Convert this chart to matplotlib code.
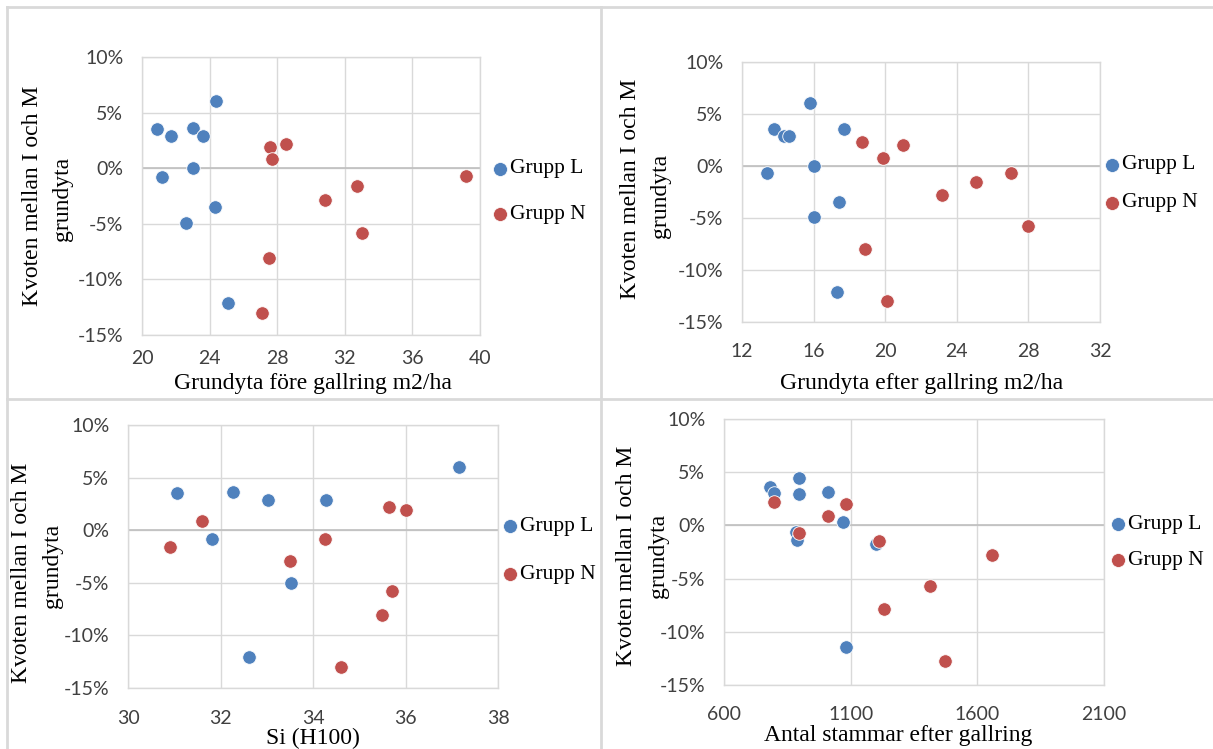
import matplotlib
matplotlib.use("Agg")
import matplotlib.pyplot as plt
from matplotlib.lines import Line2D
from matplotlib.ticker import FuncFormatter

# ---------------- data (y values in %) ----------------
# Panel 1: Grundyta före gallring m2/ha
p1_L_x = [24.4, 20.9, 21.7, 23.0, 23.6, 23.0, 21.2, 24.3, 22.6, 25.1]
p1_L_y = [6.0, 3.5, 2.9, 3.6, 2.9, 0.0, -0.8, -3.5, -4.9, -12.1]
p1_N_x = [27.6, 28.5, 27.7, 32.7, 30.8, 39.2, 33.0, 27.5, 27.1]
p1_N_y = [1.9, 2.2, 0.8, -1.6, -2.9, -0.7, -5.8, -8.1, -13.0]

# Panel 2: Grundyta efter gallring m2/ha
p2_L_x = [15.8, 13.8, 14.35, 14.6, 17.7, 16.0, 13.4, 17.4, 16.0, 17.3]
p2_L_y = [6.1, 3.6, 2.9, 2.9, 3.6, 0.0, -0.7, -3.5, -4.9, -12.1]
p2_N_x = [18.7, 21.0, 19.9, 27.0, 25.1, 23.2, 28.0, 18.85, 20.1]
p2_N_y = [2.3, 2.0, 0.8, -0.7, -1.5, -2.8, -5.8, -8.0, -13.0]

# Panel 3: Si (H100)
p3_L_x = [37.15, 31.05, 32.26, 33.03, 34.28, 31.82, 33.53, 32.61]
p3_L_y = [6.0, 3.5, 3.6, 2.9, 2.85, -0.8, -5.0, -12.1]
p3_N_x = [31.6, 30.9, 34.25, 33.5, 35.65, 36.0, 35.7, 35.5, 34.6]
p3_N_y = [0.9, -1.6, -0.8, -2.9, 2.2, 1.9, -5.8, -8.1, -13.0]

# Panel 4: Antal stammar efter gallring
p4_L_x = [781, 796, 896, 896, 1009, 1069, 885, 888, 1199, 1081]
p4_L_y = [3.6, 3.0, 4.5, 2.95, 3.1, 0.28, -0.65, -1.34, -1.77, -11.4]
p4_N_x = [796, 1081, 1009, 897, 1212, 1658, 1414, 1233, 1472]
p4_N_y = [2.24, 2.0, 0.9, -0.75, -1.43, -2.77, -5.66, -7.9, -12.75]

series_labels = ["Grupp L", "Grupp N"]
x_labels = ["Grundyta före gallring m2/ha", "Grundyta efter gallring m2/ha",
            "Si (H100)", "Antal stammar efter gallring"]
y_label_lines = ["Kvoten mellan I och M", "grundyta"]
x_ranges = [(20, 40, 4), (12, 32, 4), (30, 38, 2), (600, 2100, 500)]
y_ticks = [-15, -10, -5, 0, 5, 10]

BLUE = "#4F81BD"
RED = "#C0504D"
GRID = "#D9D9D9"
TXT = "#000000"

W, H = 1213, 749
fig = plt.figure(figsize=(W / 100, H / 100), dpi=100)
fig.patch.set_facecolor("white")

def fx(px):
    return px / W

def fy(py):
    return 1 - py / H

# pixel layout: left, right, top, bottom
rects = [(142, 480, 57, 335), (742, 1100, 62, 322),
         (128, 498, 425, 688), (724, 1104, 419, 685)]
xtick_pad_px = [15, 21, 22, 21]
xlabel_pos = [(313, 383), (922, 383), (313, 738), (898, 736)]
# (x line1, y line1, x line2, y line2)
ylabel_pos = [(33, 196, 62, 199), (630, 189, 660, 196),
              (22, 573, 52, 566), (627, 556, 658, 556)]
legend_pos = [(500, 169, 214), (1112, 165, 203), (510, 526, 574), (1118, 524, 560)]

data = [(p1_L_x, p1_L_y, p1_N_x, p1_N_y),
        (p2_L_x, p2_L_y, p2_N_x, p2_N_y),
        (p3_L_x, p3_L_y, p3_N_x, p3_N_y),
        (p4_L_x, p4_L_y, p4_N_x, p4_N_y)]

tick_font = "Lato"
serif = "Liberation Serif"

for i in range(4):
    l, r, t, b = rects[i]
    ax = fig.add_axes([fx(l), fy(b), (r - l) / W, (b - t) / H])
    lx, ly, nx, ny = data[i]
    ax.scatter(lx, ly, s=95, color=BLUE, edgecolors="white", linewidths=0.6, zorder=3)
    ax.scatter(nx, ny, s=95, color=RED, edgecolors="white", linewidths=0.6, zorder=3)

    x0, x1, step = x_ranges[i]
    ax.set_xlim(x0, x1)
    ax.set_ylim(-15, 10)
    xt = list(range(x0, x1 + 1, step))
    ax.set_xticks(xt)
    ax.set_yticks(y_ticks)
    ax.yaxis.set_major_formatter(FuncFormatter(lambda v, p: "%d%%" % round(v)))
    ax.grid(True, color=GRID, linewidth=1.0, zorder=0)
    ax.axhline(0, color="#BFBFBF", linewidth=1.2, zorder=1)
    for sp in ax.spines.values():
        sp.set_color(GRID)
        sp.set_linewidth(1.0)
    ax.tick_params(axis="both", length=0, colors="#404040", labelsize=14)
    ax.tick_params(axis="y", pad=13.5)
    ax.tick_params(axis="x", pad=xtick_pad_px[i] * 0.72)
    for lab in ax.get_xticklabels() + ax.get_yticklabels():
        lab.set_fontfamily(tick_font)
    ax.set_axisbelow(True)

    # x label
    xpx, ypx = xlabel_pos[i]
    fig.text(fx(xpx), fy(ypx), x_labels[i], ha="center", va="center",
             fontsize=17, family=serif, color=TXT)
    # y label (two lines, drawn separately)
    x1p, y1p, x2p, y2p = ylabel_pos[i]
    fig.text(fx(x1p), fy(y1p), y_label_lines[0], ha="center", va="center", rotation=90,
             fontsize=17, family=serif, color=TXT)
    fig.text(fx(x2p), fy(y2p), y_label_lines[1], ha="center", va="center", rotation=90,
             fontsize=17, family=serif, color=TXT)

    # legend
    mx, yl, yn = legend_pos[i]
    for col, lab, yy in [(BLUE, series_labels[0], yl), (RED, series_labels[1], yn)]:
        fig.add_artist(Line2D([fx(mx)], [fy(yy)], marker="o", markersize=10,
                              color=col, markeredgecolor="white", markeredgewidth=0.5,
                              linestyle="none", transform=fig.transFigure))
        fig.text(fx(mx + 10), fy(yy), lab, ha="left", va="center",
                 fontsize=15.5, family=serif, color=TXT)

# panel border lines
lw = 2
fig.add_artist(Line2D([fx(7), fx(7)], [fy(7), fy(749)], color=GRID, lw=lw, transform=fig.transFigure))
fig.add_artist(Line2D([fx(7), fx(1213)], [fy(7), fy(7)], color=GRID, lw=lw, transform=fig.transFigure))
fig.add_artist(Line2D([fx(601), fx(601)], [fy(7), fy(749)], color=GRID, lw=lw, transform=fig.transFigure))
fig.add_artist(Line2D([fx(7), fx(1213)], [fy(399), fy(399)], color=GRID, lw=lw, transform=fig.transFigure))

fig.savefig("out.png", dpi=100, facecolor="white")
